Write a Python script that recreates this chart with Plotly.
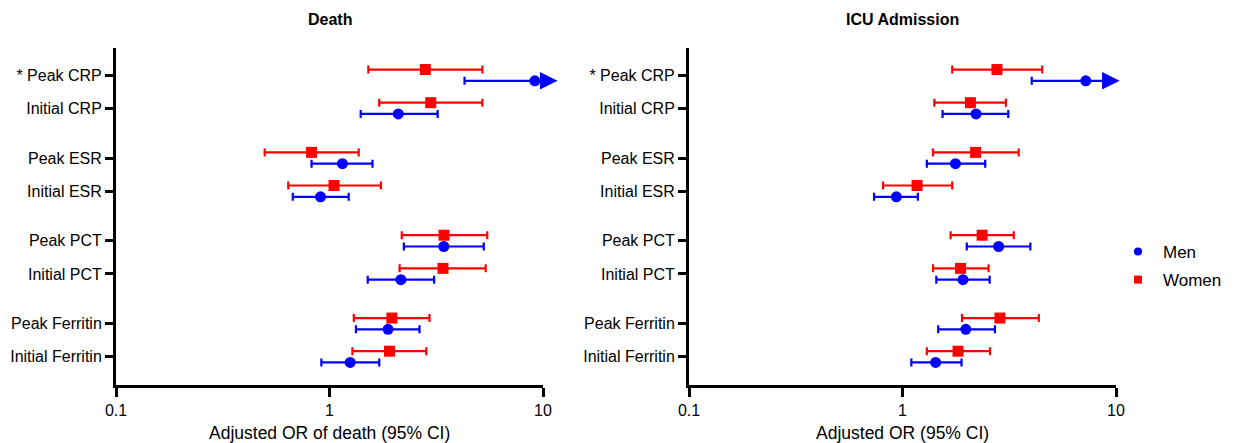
import plotly.graph_objects as go
import numpy as np

# ---------------- data ----------------
categories = ["* Peak CRP", "Initial CRP", "Peak ESR", "Initial ESR",
              "Peak PCT", "Initial PCT", "Peak Ferritin", "Initial Ferritin"]

# Death (adjusted OR, lower and upper 95% CI); None = upper CI off scale (arrow)
death_men_or = [9.16, 2.10, 1.15, 0.908, 3.43, 2.16, 1.88, 1.25]
death_men_lo = [4.29, 1.40, 0.824, 0.673, 2.23, 1.51, 1.33, 0.916]
death_men_hi = [None, 3.21, 1.59, 1.23, 5.28, 3.09, 2.64, 1.71]
death_women_or = [2.81, 2.98, 0.824, 1.05, 3.44, 3.40, 1.96, 1.91]
death_women_lo = [1.52, 1.71, 0.497, 0.641, 2.18, 2.13, 1.30, 1.28]
death_women_hi = [5.20, 5.20, 1.37, 1.74, 5.48, 5.39, 2.94, 2.84]
death_arrow_tip = 11.7

# ICU admission
icu_men_or = [7.22, 2.21, 1.77, 0.936, 2.82, 1.92, 1.98, 1.43]
icu_men_lo = [4.03, 1.54, 1.30, 0.736, 2.00, 1.44, 1.47, 1.10]
icu_men_hi = [None, 3.13, 2.44, 1.18, 3.97, 2.56, 2.71, 1.89]
icu_women_or = [2.77, 2.08, 2.20, 1.17, 2.36, 1.87, 2.86, 1.82]
icu_women_lo = [1.71, 1.41, 1.39, 0.811, 1.68, 1.39, 1.90, 1.30]
icu_women_hi = [4.51, 3.05, 3.50, 1.71, 3.32, 2.53, 4.35, 2.57]
icu_arrow_tip = 10.4

panel_titles = ["Death", "ICU Admission"]
x_titles = ["Adjusted OR of death (95% CI)", "Adjusted OR (95% CI)"]
x_tick_vals = [0.1, 1, 10]
x_tick_text = ["0.1", "1", "10"]
ref_or = 1

# ---------------- layout helpers ----------------
W, H = 1240, 443
BLUE = "#0000FF"
RED = "#FF0000"
FONT = "Liberation Sans, Arial, Helvetica, sans-serif"

# category positions: pairs separated by an extra half step
pos = np.array([i + 0.5 * (i // 2) for i in range(len(categories))])
off = 0.17

fig = go.Figure()

panels = [
    dict(men=(death_men_or, death_men_lo, death_men_hi), women=(death_women_or, death_women_lo, death_women_hi),
         tip=death_arrow_tip, xa="x", ya="y"),
    dict(men=(icu_men_or, icu_men_lo, icu_men_hi), women=(icu_women_or, icu_women_lo, icu_women_hi),
         tip=icu_arrow_tip, xa="x2", ya="y2"),
]

series = [("Men", "men", BLUE, "circle", 1), ("Women", "women", RED, "square", -1)]

annotations = []
shapes = []

for p in panels:
    for name, key, color, symbol, sgn in series:
        orv, lo, hi = p[key]
        orv = np.array(orv, dtype=float)
        lo = np.array(lo, dtype=float)
        plus = np.array([(h - o) if h is not None else 0.0 for h, o in zip(hi, orv)])
        minus = orv - lo
        fig.add_trace(go.Scatter(
            x=orv, y=pos + sgn * off, mode="markers", name=name,
            legendgroup=key, showlegend=False,
            marker=dict(symbol=symbol, size=11, color=color),
            error_x=dict(type="data", symmetric=False, array=plus, arrayminus=minus,
                         color=color, thickness=2.2, width=4),
            xaxis=p["xa"], yaxis=p["ya"], cliponaxis=False,
        ))
        # arrows for off-scale upper limits
        for i, h in enumerate(hi):
            if h is None:
                annotations.append(dict(
                    x=np.log10(p["tip"]), y=pos[i] + sgn * off,
                    ax=np.log10(orv[i]), ay=pos[i] + sgn * off,
                    xref=p["xa"], yref=p["ya"], axref=p["xa"], ayref=p["ya"],
                    text="", showarrow=True, arrowhead=2, arrowsize=1.6,
                    arrowwidth=2.2, arrowcolor=color, standoff=0, startstandoff=0,
                ))
    shapes.append(dict(type="line", xref=p["xa"], yref=p["ya"] + " domain",
                       x0=np.log10(ref_or), x1=np.log10(ref_or), y0=0, y1=1,
                       line=dict(color="black", width=2, dash="5px,4px")))

# legend-only entries (smaller symbols, as in the reference)
for name, key, color, symbol, sgn in series:
    fig.add_trace(go.Scatter(x=[None], y=[None], mode="markers", name=name,
                             legendgroup=key, showlegend=True,
                             marker=dict(symbol=symbol, size=8, color=color),
                             xaxis="x", yaxis="y"))

# domains in pixels
left_dom = [116 / W, 543 / W]
right_dom = [689 / W, 1116 / W]
y_dom = [1 - 385 / H, 1 - 48 / H]

xax = dict(type="log", range=[-1, 1], tickvals=x_tick_vals, ticktext=x_tick_text,
           ticks="outside", ticklen=9, tickwidth=3, tickcolor="black", automargin=False,
           showline=True, linewidth=3, linecolor="black", showgrid=False, zeroline=False,
           tickfont=dict(size=16, color="black", family=FONT), fixedrange=True)
yax = dict(range=[pos[-1] + 0.85, -0.82], tickvals=pos, ticktext=categories,
           ticks="outside", ticklen=8, tickwidth=3, tickcolor="black", automargin=False,
           showline=True, linewidth=3, linecolor="black", showgrid=False, zeroline=False,
           tickfont=dict(size=16, color="black", family=FONT), fixedrange=True)

for dom, title, xt in [(left_dom, panel_titles[0], x_titles[0]), (right_dom, panel_titles[1], x_titles[1])]:
    cx = (dom[0] + dom[1]) / 2
    annotations.append(dict(x=cx, y=1 - 20 / H, xref="paper", yref="paper", text="<b>" + title + "</b>",
                            showarrow=False, font=dict(size=16, color="black", family=FONT),
                            xanchor="center", yanchor="middle"))
    annotations.append(dict(x=cx, y=1 - 433 / H, xref="paper", yref="paper", text=xt,
                            showarrow=False, font=dict(size=17.5, color="black", family=FONT),
                            xanchor="center", yanchor="middle"))

fig.update_layout(
    template="none",
    width=W, height=H,
    margin=dict(l=0, r=0, t=0, b=0, autoexpand=False),
    paper_bgcolor="white", plot_bgcolor="white",
    font=dict(family=FONT, color="black"),
    xaxis=dict(domain=left_dom, anchor="y", **xax),
    yaxis=dict(domain=y_dom, anchor="x", **yax),
    xaxis2=dict(domain=right_dom, anchor="y2", **xax),
    yaxis2=dict(domain=y_dom, anchor="x2", **yax),
    annotations=annotations,
    shapes=shapes,
    showlegend=True,
    legend=dict(x=1113 / W, y=1 - 234 / H, xanchor="left", yanchor="top",
                traceorder="grouped", tracegroupgap=3, itemwidth=40,
                font=dict(size=17, color="black", family=FONT),
                bgcolor="rgba(0,0,0,0)", borderwidth=0),
)

fig.write_html("out.html", config={"displayModeBar": False},
               post_script="document.body.style.margin='0';document.body.style.overflow='hidden';")
